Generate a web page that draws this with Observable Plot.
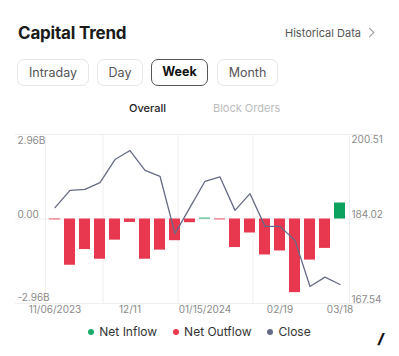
<!DOCTYPE html>
<html><head><meta charset="utf-8">
<script src="https://cdn.jsdelivr.net/npm/d3@7"></script>
<script src="https://cdn.jsdelivr.net/npm/@observablehq/plot@0.6"></script>
<style>
body{margin:0;background:#fff;font-family:Inter,"Noto Sans",sans-serif;width:399px;height:356px;position:relative;overflow:hidden;color:#222}
.abs{position:absolute;white-space:nowrap}
#title{left:18px;top:22px;font-size:17px;font-weight:700;line-height:22px;color:#1a1a1a;letter-spacing:-0.2px}
#hist{left:285px;top:26px;font-size:11px;line-height:14px;color:#555}
#chev{left:366px;top:29px;width:6px;height:6px;border-top:1.2px solid #999;border-right:1.2px solid #999;transform:rotate(45deg)}
.btn{top:59px;height:27px;box-sizing:border-box;border:1px solid #e6e6e6;border-radius:7px;font-size:12.5px;line-height:25px;text-align:center;color:#555}
#week{border:1.5px solid #555;color:#111;font-weight:700;line-height:24px}
.tab{top:101px;font-size:11px;line-height:14px}
#chart{left:0;top:120px}
#legend{left:0;top:325px;width:399px;display:flex;justify-content:center;gap:16px;font-size:12px;line-height:14px;color:#333}
#legend span.it{display:flex;align-items:center;gap:5px}
#legend i{display:inline-block;width:6px;height:6px;border-radius:50%}
#slash{left:378px;top:330px;font-size:14px;font-weight:900;font-style:italic;color:#111}
</style></head><body>
<div class="abs" id="title">Capital Trend</div>
<div class="abs" id="hist">Historical Data</div>
<div class="abs" id="chev"></div>
<div class="abs btn" style="left:17px;width:72px">Intraday</div>
<div class="abs btn" style="left:97px;width:46px">Day</div>
<div class="abs btn" id="week" style="left:151px;width:57px">Week</div>
<div class="abs btn" style="left:217px;width:61px">Month</div>
<div class="abs tab" style="left:129px;color:#222;font-weight:500">Overall</div>
<div class="abs tab" style="left:213px;color:#bbb">Block Orders</div>
<div class="abs" id="chart"></div>
<div class="abs" id="legend"></div>
<div class="abs" id="slash">/</div>
<script>
const weeks = ["2023-11-06","2023-11-13","2023-11-20","2023-11-27","2023-12-04","2023-12-11","2023-12-18","2023-12-25","2024-01-01","2024-01-08","2024-01-15","2024-01-22","2024-01-29","2024-02-05","2024-02-12","2024-02-19","2024-02-26","2024-03-04","2024-03-11","2024-03-18"];
const netFlow = [-0.03,-1.62,-1.07,-1.41,-0.74,-0.12,-1.41,-1.09,-0.76,-0.13,0.03,-0.03,-1.00,-0.49,-1.26,-1.12,-2.58,-1.44,-1.03,0.56];
const closePrice = [186.24,189.62,189.82,191.12,195.62,197.38,193.53,192.36,181.16,186.3,191.38,192.22,185.71,188.97,182.59,182.59,179.85,170.86,172.68,171.25];
const flowTicks = [-2.96,0,2.96];
const flowTickLabels = ["-2.96B","0.00","2.96B"];
const closeTicks = [167.54,184.02,200.51];
const closeTickLabels = ["167.54","184.02","200.51"];
const xTickWeeks = ["2023-11-06","2023-12-11","2024-01-15","2024-02-19","2024-03-18"];
const xTickLabels = ["11/06/2023","12/11","01/15/2024","02/19","03/18"];
const gridWeeks = ["2023-11-27","2024-01-01","2024-02-05"];
const legendNames = ["Net Inflow","Net Outflow","Close"];

const GREEN = "#0ba25f", RED = "#e8384f", LINE = "#656b86", GRID = "#eeeeee", LABEL = "#8a8a8a";
const legendColors = ["#1aab6a", RED, LINE];

const toY = d3.scaleLinear().domain([closeTicks[0], closeTicks[2]]).range([flowTicks[0], flowTicks[2]]);
const rows = weeks.map((w,i)=>({week:w, flow:netFlow[i], closeY:toY(closePrice[i])}));
const leftTicks = flowTicks.map((v,i)=>({v, t:flowTickLabels[i], pos:i===flowTicks.length-1 ? "top" : i===0 ? "bottom" : "mid"}));
const rightTicks = closeTicks.map((v,i)=>({v:toY(v), t:closeTickLabels[i], pos:i===closeTicks.length-1 ? "top" : i===0 ? "bottom" : "mid"}));

const chart = Plot.plot({
  width: 399, height: 203,
  marginLeft: 45, marginRight: 50, marginTop: 14, marginBottom: 20,
  style: {fontFamily: "Inter, sans-serif", fontSize: "10px", color: LABEL, background: "transparent", overflow: "visible"},
  x: {type: "band", domain: weeks, paddingInner: 0.24, paddingOuter: 0.12, axis: null, label: null},
  y: {domain: [flowTicks[0], flowTicks[2]], axis: null, label: null},
  marks: [
    Plot.ruleY(flowTicks, {stroke: GRID, insetLeft: -30, insetRight: -28}),
    Plot.ruleX(gridWeeks, {stroke: GRID, dx: 3}),
    Plot.frame({stroke: GRID}),
    Plot.barY(rows, {filter: d => d.flow < 0, x: "week", y: "flow", fill: RED}),
    Plot.barY(rows, {filter: d => d.flow >= 0, x: "week", y: "flow", fill: GREEN}),
    Plot.line(rows, {x: "week", y: "closeY", stroke: LINE, strokeWidth: 1.3}),
    Plot.axisX({ticks: xTickWeeks, tickSize: 0, tickPadding: 2, label: null, fill: LABEL,
      tickFormat: d => xTickLabels[xTickWeeks.indexOf(d)]}),
    Plot.text(leftTicks, {filter: d => d.pos === "top", y: "v", text: "t", frameAnchor: "left", dx: -28, textAnchor: "start", lineAnchor: "top", dy: 2, fill: LABEL}),
    Plot.text(leftTicks, {filter: d => d.pos === "mid", y: "v", text: "t", frameAnchor: "left", dx: -28, textAnchor: "start", lineAnchor: "bottom", dy: -1, fill: LABEL}),
    Plot.text(leftTicks, {filter: d => d.pos === "bottom", y: "v", text: "t", frameAnchor: "left", dx: -28, textAnchor: "start", lineAnchor: "bottom", dy: -3, fill: LABEL}),
    Plot.text(rightTicks, {filter: d => d.pos === "top", y: "v", text: "t", frameAnchor: "right", dx: 2, textAnchor: "start", lineAnchor: "top", dy: 1, fill: LABEL}),
    Plot.text(rightTicks, {filter: d => d.pos !== "top", y: "v", text: "t", frameAnchor: "right", dx: 2, textAnchor: "start", lineAnchor: "bottom", dy: -1, fill: LABEL})
  ]
});
document.getElementById("chart").append(chart);

const legend = document.getElementById("legend");
legendNames.forEach((n,i)=>{
  const s = document.createElement("span"); s.className = "it";
  const dot = document.createElement("i"); dot.style.background = legendColors[i];
  s.append(dot, document.createTextNode(n));
  legend.append(s);
});
</script>
</body></html>
